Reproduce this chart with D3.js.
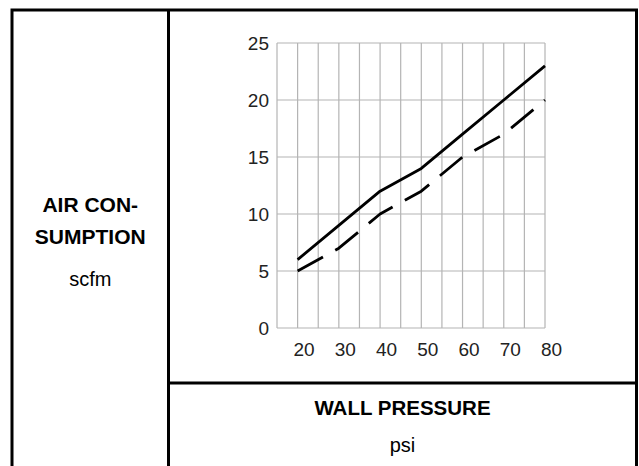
<!DOCTYPE html>
<html>
<head>
<meta charset="utf-8">
<script src="https://cdn.jsdelivr.net/npm/d3@7"></script>
<style>
  html, body { margin: 0; padding: 0; background: #fff; }
  svg { display: block; font-family: "Liberation Sans", Arial, Helvetica, sans-serif; }
</style>
</head>
<body>
<div id="chart"></div>
<script>
// chart data
var pressure = [20, 30, 40, 50, 60, 70, 80],            // psi
    solidSeries = [6, 9, 12, 14, 17, 20, 23],           // scfm, solid line
    dashedSeries = [5, 7, 10, 12, 15, 17, 20],          // scfm, dashed line
    xTickLabels = [20, 30, 40, 50, 60, 70, 80],
    yTickLabels = [0, 5, 10, 15, 20, 25],
    xGridValues = [15, 20, 25, 30, 35, 40, 45, 50, 55, 60, 65, 70, 75, 80],
    yGridValues = [0, 5, 10, 15, 20, 25];

var width = 639,
    height = 466,
    frame = {left: 12, top: 10, right: 636.5, divX: 168.5, divY: 383},
    plot = {left: 277, right: 545, top: 43, bottom: 328};

var svg = d3.select("#chart").append("svg")
    .attr("width", width)
    .attr("height", height);

var x = d3.scaleLinear().domain([15, 80]).range([plot.left, plot.right]),
    y = d3.scaleLinear().domain([0, 25]).range([plot.bottom, plot.top]);

// grid
var grid = svg.append("g")
    .attr("stroke", "#b4b4b4")
    .attr("stroke-width", 1.2);

grid.selectAll("line.v")
    .data(xGridValues)
    .enter().append("line")
    .attr("class", "v")
    .attr("x1", function (d) { return x(d); })
    .attr("x2", function (d) { return x(d); })
    .attr("y1", y(0))
    .attr("y2", y(25));

grid.selectAll("line.h")
    .data(yGridValues)
    .enter().append("line")
    .attr("class", "h")
    .attr("x1", x(15))
    .attr("x2", x(80))
    .attr("y1", function (d) { return y(d); })
    .attr("y2", function (d) { return y(d); });

// axes (labels only)
var yAxis = svg.append("g")
    .attr("transform", "translate(" + plot.left + ",0)")
    .call(d3.axisLeft(y).tickValues(yTickLabels).tickSize(0).tickPadding(8));

var xAxis = svg.append("g")
    .attr("transform", "translate(0," + plot.bottom + ")")
    .call(d3.axisBottom(x).tickValues(xTickLabels).tickSize(0).tickPadding(15));

[yAxis, xAxis].forEach(function (ax) {
    ax.select(".domain").remove();
    ax.selectAll("text")
        .attr("font-family", "\"Liberation Sans\", Arial, sans-serif")
        .attr("font-size", 19)
        .attr("fill", "#222");
});
xAxis.selectAll("text").attr("dx", 6);

// lines
var line = d3.line()
    .x(function (d) { return x(d[0]); })
    .y(function (d) { return y(d[1]); });

svg.append("path")
    .datum(d3.zip(pressure, solidSeries))
    .attr("fill", "none")
    .attr("stroke", "#000")
    .attr("stroke-width", 2.8)
    .attr("stroke-linejoin", "round")
    .attr("d", line);

svg.append("path")
    .datum(d3.zip(pressure, dashedSeries))
    .attr("fill", "none")
    .attr("stroke", "#000")
    .attr("stroke-width", 2.8)
    .attr("stroke-dasharray", "29,14")
    .attr("stroke-linejoin", "round")
    .attr("d", line);

// table frame
var border = svg.append("g")
    .attr("stroke", "#000")
    .attr("stroke-width", 3)
    .attr("fill", "none");

border.append("path")
    .attr("d", "M" + frame.left + "," + height + "V" + frame.top + "H" + frame.right + "V" + height);
border.append("line")
    .attr("x1", frame.divX).attr("x2", frame.divX)
    .attr("y1", frame.top).attr("y2", height);
border.append("line")
    .attr("x1", frame.divX).attr("x2", frame.right)
    .attr("y1", frame.divY).attr("y2", frame.divY);

// labels
var leftMid = (frame.left + frame.divX) / 2,
    rightMid = (frame.divX + frame.right) / 2;

function label(txt, cx, by, bold, size) {
    svg.append("text")
        .attr("x", cx)
        .attr("y", by)
        .attr("text-anchor", "middle")
        .attr("font-size", size)
        .attr("font-weight", bold ? "bold" : "normal")
        .attr("fill", "#000")
        .text(txt);
}

label("AIR CON-", leftMid, 212, true, 21);
label("SUMPTION", leftMid, 244, true, 21);
label("scfm", leftMid, 286, false, 20);
label("WALL PRESSURE", rightMid, 415, true, 20.5);
label("psi", rightMid, 452, false, 20);
</script>
</body>
</html>
